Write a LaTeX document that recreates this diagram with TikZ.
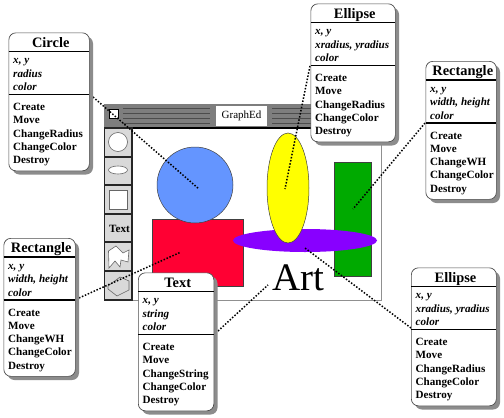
\documentclass[tikz,border=0pt]{standalone}
\usepackage{fontspec}
\setmainfont{Liberation Serif}
\usetikzlibrary{calc}
\definecolor{barGray}{HTML}{7E7E7E}
\definecolor{cellGray}{HTML}{D9D9D9}
\definecolor{edgeGray}{HTML}{909090}
\definecolor{shadowGray}{HTML}{8C8C8C}
\definecolor{blueC}{HTML}{6495FF}
\definecolor{redR}{HTML}{FF0033}
\definecolor{yellowE}{HTML}{FFFF00}
\definecolor{greenR}{HTML}{00AA00}
\definecolor{purpleE}{HTML}{8800FF}
\tikzset{
  x=1pt,y=-1pt,
  classbox/.style={draw=black!70,line width=.7pt,fill=white,rounded corners=7pt},
  classshadow/.style={fill=shadowGray,rounded corners=7pt},
  sepline/.style={line width=1.4pt,black},
  linktext/.style={inner sep=0pt,anchor=base west,font=\fontsize{11.1}{12}\selectfont\bfseries},
  attrtext/.style={linktext,font=\fontsize{11.1}{12}\selectfont\bfseries\itshape},
  titletext/.style={inner sep=0pt,anchor=base,font=\fontsize{14.4}{16}\selectfont\bfseries},
  dotlink/.style={line width=1.5pt,dash pattern=on 1.5pt off 1.7pt,black},
  toolcell/.style={fill=cellGray,draw=black!85,line width=1.1pt},
  toolicon/.style={fill=white,draw=black!60,line width=.6pt},
  shapeedge/.style={draw=black!75,line width=.5pt},
}
% name, left, top, right, title, attr2, operation name
\newcommand{\classbox}[7]{%
  \path[classshadow] (#2+4,#3+4) rectangle (#4+4,#3+142);
  \node[classbox,inner sep=0pt,minimum width=#4-#2,minimum height=138,anchor=north west] (#1) at (#2,#3) {};
  \coordinate (#1-a) at (#2,#3+19);
  \coordinate (#1-b) at (#4,#3+19);
  \coordinate (#1-c) at (#2,#3+62);
  \coordinate (#1-d) at (#4,#3+62);
  \draw[sepline] (#1-a) -- (#1-b);
  \draw[sepline] (#1-c) -- (#1-d);
  \node[titletext] (#1-title) at ({(#2+#4)/2+2},#3+14.5) {#5};
  \node[attrtext] (#1-a1) at (#2+4.5,#3+31) {x, y};
  \node[attrtext] (#1-a2) at (#2+4.5,#3+44.5) {#6};
  \node[attrtext] (#1-a3) at (#2+4.5,#3+58) {color};
  \node[linktext] (#1-o1) at (#2+4.5,#3+78) {Create};
  \node[linktext] (#1-o2) at (#2+4.5,#3+91) {Move};
  \node[linktext] (#1-o3) at (#2+4.5,#3+104.5) {#7};
  \node[linktext] (#1-o4) at (#2+4.5,#3+117.5) {ChangeColor};
  \node[linktext] (#1-o5) at (#2+4.5,#3+131) {Destroy};
}
\begin{document}
\begin{tikzpicture}
\useasboundingbox (0,0) rectangle (504,418);
\fill[white] (0,0) rectangle (504,418);
% window
\draw[edgeGray,line width=1pt,fill=white] (104,128) rectangle (381,300);
\fill[barGray] (104,104) rectangle (381,128);
\draw[black,line width=1.3pt] (104,128) -- (381,128);
\foreach \yy in {108,113,118,123}{
  \draw[black!70,line width=.9pt] (123,\yy) -- (210,\yy);
  \draw[black!70,line width=.9pt] (272,\yy) -- (381,\yy);
}
\draw[black,fill=white,line width=.7pt] (109.5,109.5) rectangle (118,118);
\node[fill=white,inner sep=0pt,minimum width=51,minimum height=20,font=\fontsize{11}{12}\selectfont] (wintitle) at (241.5,116) {GraphEd};
% toolbar
\foreach \ya/\yb in {128/157,157/185,185/214,214/242,242/271,271/300}{
  \draw[toolcell] (104.5,\ya) rectangle (132,\yb);
}
\path[toolicon] (118,142) circle [radius=9.5];
\path[toolicon] (118,170) ellipse [x radius=9.5,y radius=4];
\path[toolicon] (109,190) rectangle (127.5,209.5);
\node[font=\fontsize{11.1}{12}\selectfont\bfseries,inner sep=0pt] (tooltext) at (119.5,229) {Text};
\path[toolicon] (108.5,251) -- (116,246) -- (123,253) -- (129,250) -- (128,262) -- (121,260) -- (120,267) -- (115,261) -- (109,268) -- cycle;
\draw[black!60,line width=.6pt] (108,286) -- (120,277) -- (129,281) -- (129,290) -- (117,296) -- (108,289) -- cycle;
% canvas shapes
\path[shapeedge,fill=redR] (152,219) rectangle (243,286);
\path[shapeedge,fill=blueC] (195,185) circle [radius=38];
\path[shapeedge,fill=greenR] (334,162) rectangle (371,276);
\path[fill=purpleE] (305,240.5) ellipse [x radius=72,y radius=11.5];
\path[shapeedge,fill=yellowE] (288,188) ellipse [x radius=21,y radius=55];
\node[inner sep=0pt,anchor=base,font=\fontsize{39}{40}\selectfont] (art) at (298.5,290.5) {Art};
% targets of the connectors
\coordinate (tCircle) at (199,189);
\coordinate (tEllipseA) at (285,189);
\coordinate (tRectA) at (353,209);
\coordinate (tRectB) at (181,252);
\coordinate (tText) at (268,285);
\coordinate (tEllipseB) at (305,248);
% class boxes' connector ends
\coordinate (sCircle) at (93,97);
\coordinate (sEllipseA) at (310,66);
\coordinate (sRectA) at (425,123);
\coordinate (sRectB) at (79,298);
\coordinate (sText) at (218,331);
\coordinate (sEllipseB) at (411,328);
\draw[dotlink] (sCircle) -- (tCircle);
\draw[dotlink] (sEllipseA) -- (tEllipseA);
\draw[dotlink] (sRectA) -- (tRectA);
\draw[dotlink] (sRectB) -- (tRectB);
\draw[dotlink] (sText) -- (tText);
\draw[dotlink] (sEllipseB) -- (tEllipseB);
% class boxes
\classbox{cCircle}{8.5}{32.5}{89}{Circle}{radius}{ChangeRadius}
\classbox{cEllipseA}{310.5}{3.5}{395}{Ellipse}{xradius, yradius}{ChangeRadius}
\classbox{cRectA}{425.5}{61}{496}{Rectangle}{width, height}{ChangeWH}
\classbox{cRectB}{3.5}{238}{75}{Rectangle}{width, height}{ChangeWH}
\classbox{cText}{138}{272.5}{213.5}{Text}{string}{ChangeString}
\classbox{cEllipseB}{411}{267.5}{496}{Ellipse}{xradius, yradius}{ChangeRadius}
\end{tikzpicture}
\end{document}
